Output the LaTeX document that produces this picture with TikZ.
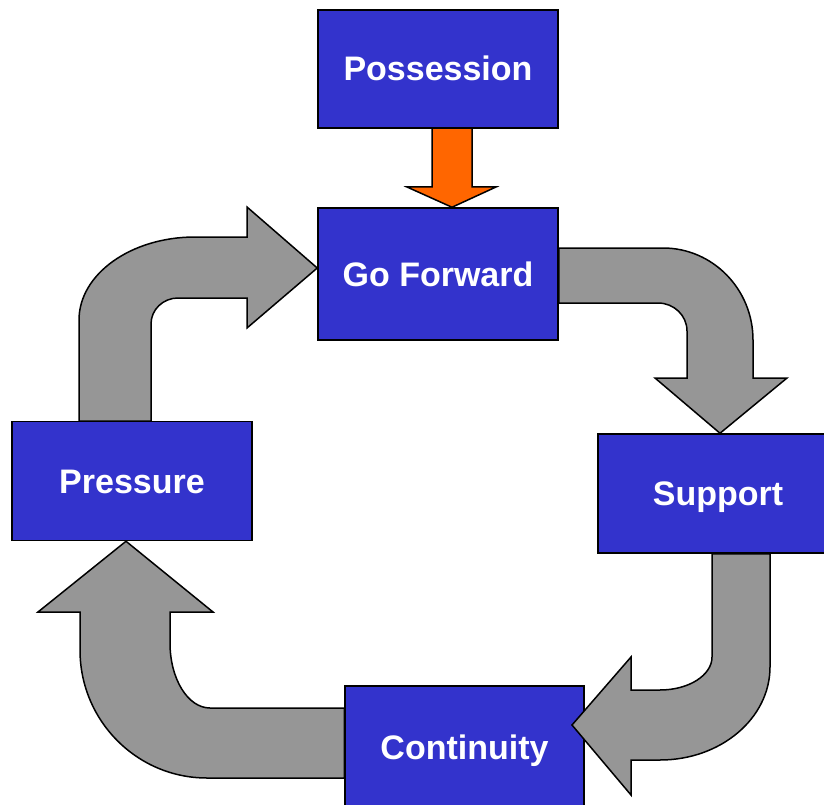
\documentclass[tikz,border=0pt]{standalone}
\usepackage{fontspec}
\setmainfont{Liberation Sans}
\usetikzlibrary{calc}
\usetikzlibrary{backgrounds}
\definecolor{boxblue}{HTML}{3333CC}
\definecolor{arrowgray}{HTML}{969696}
\definecolor{pushorange}{HTML}{FF6600}

\begin{document}
\begin{tikzpicture}[x=1pt, y=-1pt,
        box/.style={draw=black, line width=1.5pt, fill=boxblue, text=white,
            font=\fontsize{34}{40}\selectfont\bfseries,
            text height=24pt, text depth=0pt,
            minimum width=240pt, minimum height=119pt, inner sep=0pt},
        bent/.style={draw=black, line width=1.5pt, fill=arrowgray, line join=miter},
        push/.style={draw=black, line width=1.5pt, fill=pushorange, line join=miter}]
        \useasboundingbox (0,0) rectangle (824,805);

        % The five boxes
        \node[box, minimum height=118pt] (pos) at (438,69) {Possession};
        \node[box, minimum height=132pt] (fwd) at (438,274) {Go Forward};
        \node[box] (pre) at (132,481) {Pressure};
        \node[box] (sup) at (718,493.5) {Support};
        \node[box, minimum width=239pt, minimum height=122pt] (con) at (464.5,747) {Continuity};

        \begin{scope}[on background layer]
            % Possession down to Go Forward
            \draw[push] ([xshift=-6pt]pos.south) -- (432,187) -- (407,187)
                -- ([xshift=14pt]fwd.north) -- (496,187) -- (472,187)
                -- ([xshift=34pt]pos.south);

            % Pressure up and round to Go Forward
            \draw[bent] (79,421) -- (79,320)
                arc[start angle=180, end angle=270, x radius=116, y radius=83]
                -- (247,237) -- (247,207) -- ([yshift=6pt]fwd.west) -- (247,328) -- (247,298)
                -- (178,298)
                arc[start angle=270, end angle=180, x radius=27, y radius=26]
                -- (151,421) -- cycle;

            % Go Forward round to Support
            \draw[bent] (fwd.east |- 0,248) -- (663,248)
                arc[start angle=270, end angle=360, x radius=90, y radius=92]
                -- (753,378) -- (787,378) -- ([xshift=2pt]sup.north) -- (655,378) -- (687,378)
                -- (687,331)
                arc[start angle=0, end angle=-90, x radius=29, y radius=28]
                -- (fwd.east |- 0,303) -- cycle;

            % Continuity round to Pressure
            \draw[bent] (con.west |- 0,708) -- (210,708)
                arc[start angle=90, end angle=180, x radius=40, y radius=65]
                -- (170,612) -- (213,612) -- ([xshift=-6pt]pre.south) -- (38,612) -- (80,612)
                -- (80,650)
                arc[start angle=180, end angle=90, x radius=127, y radius=128]
                -- (con.west |- 0,778) -- cycle;
        \end{scope}

        % Support round to Continuity, its head lies over the box
        \draw[bent] (sup.south -| 712,0) -- (712,657)
            arc[start angle=0, end angle=90, x radius=52, y radius=33]
            -- (631,690) -- (631,657) -- (572,725) -- (631,795) -- (631,760)
            -- (660,760)
            arc[start angle=90, end angle=0, x radius=110, y radius=93]
            -- (sup.south -| 770,0) -- cycle;
    \end{tikzpicture}
\end{document}
